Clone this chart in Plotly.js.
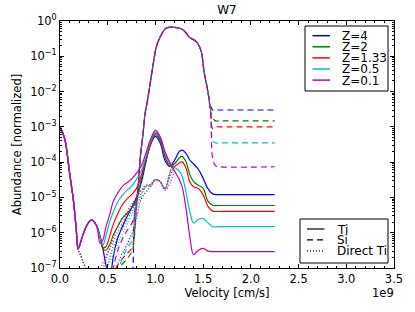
<!DOCTYPE html>
<html><head><meta charset="utf-8">
<script src="https://cdn.plot.ly/plotly-3.0.1.min.js"></script>
<style>html,body{margin:0;padding:0;background:#fff}#chart{width:415px;height:312px}</style>
</head><body><div id="chart"></div>
<script>
// ---- categories / labels ----
const zLabels = ['Z=4', 'Z=2', 'Z=1.33', 'Z=0.5', 'Z=0.1'];
const zColors = ['#0000ff', '#008000', '#ff0000', '#00bfbf', '#bf00bf'];
const styleLabels = ['Ti', 'Si', 'Direct Ti'];
const xTickVals = [0, 0.5, 1.0, 1.5, 2.0, 2.5, 3.0, 3.5];
const xTickText = ['0.0', '0.5', '1.0', '1.5', '2.0', '2.5', '3.0', '3.5'];
const yTickVals = [1e-7, 1e-6, 1e-5, 1e-4, 1e-3, 1e-2, 1e-1, 1];
const yTickText = ['10<sup>\u22127</sup>', '10<sup>\u22126</sup>', '10<sup>\u22125</sup>', '10<sup>\u22124</sup>',
                   '10<sup>\u22123</sup>', '10<sup>\u22122</sup>', '10<sup>\u22121</sup>', '10<sup>0</sup>'];

// ---- Ti (solid) ----  velocity in units of 1e9 cm/s
const velocityTi = [0, 0.05, 0.1, 0.14, 0.17, 0.19, 0.24, 0.29, 0.33, 0.38,
  0.42, 0.45, 0.48, 0.52, 0.56, 0.6, 0.65, 0.7, 0.75, 0.8,
  0.85, 0.9, 0.95, 1.0, 1.05, 1.1, 1.15, 1.2, 1.25, 1.28,
  1.32, 1.36, 1.4, 1.45, 1.5, 1.55, 1.6, 1.65, 1.7, 2.25];
const tiZ4 = [1.0e-3, 4.5e-4, 5.0e-5, 8.5e-6, 1.26e-6, 3.5e-7, 8.7e-7, 1.78e-6, 2.3e-6, 1.66e-6,
  7.9e-7, 3.5e-7, 1.26e-7, 5.0e-8, 2.2e-7, 6.3e-7, 1.41e-6, 2.8e-6, 5.0e-6, 1.0e-5,
  2.5e-5, 1.0e-4, 3.2e-4, 5.4e-4, 3.5e-4, 1.12e-4, 7.6e-5, 1.12e-4, 2.0e-4, 2.2e-4,
  1.78e-4, 1.15e-4, 8.9e-5, 6.3e-5, 3.5e-5, 1.78e-5, 1.26e-5, 1.2e-5, 1.2e-5, 1.2e-5];
const tiZ2 = [1.0e-3, 4.5e-4, 5.0e-5, 8.5e-6, 1.26e-6, 3.5e-7, 8.7e-7, 1.78e-6, 2.29e-6, 1.66e-6,
  7.6e-7, 3.5e-7, 3.2e-7, 4.5e-7, 8.9e-7, 1.41e-6, 2.5e-6, 3.5e-6, 5.0e-6, 7.9e-6,
  3.2e-5, 1.12e-4, 3.2e-4, 6.0e-4, 4.0e-4, 1.41e-4, 7.9e-5, 8.9e-5, 1.32e-4, 1.45e-4,
  1.02e-4, 4.5e-5, 2.8e-5, 2.2e-5, 1.82e-5, 7.9e-6, 6.0e-6, 5.9e-6, 5.9e-6, 5.9e-6];
const tiZ133 = [1.0e-3, 4.5e-4, 5.0e-5, 8.5e-6, 1.26e-6, 3.5e-7, 8.7e-7, 1.78e-6, 2.29e-6, 1.66e-6,
  7.6e-7, 3.8e-7, 4.0e-7, 7.9e-7, 1.78e-6, 3.2e-6, 6.0e-6, 8.9e-6, 1.2e-5, 1.78e-5,
  4.0e-5, 1.26e-4, 3.5e-4, 6.6e-4, 4.5e-4, 1.58e-4, 7.9e-5, 7.6e-5, 9.5e-5, 1.02e-4,
  6.8e-5, 2.8e-5, 2.0e-5, 1.78e-5, 1.2e-5, 5.6e-6, 4.1e-6, 4.0e-6, 4.0e-6, 4.0e-6];
const tiZ05 = [1.0e-3, 4.5e-4, 5.0e-5, 8.5e-6, 1.26e-6, 3.5e-7, 8.7e-7, 1.78e-6, 2.29e-6, 1.66e-6,
  7.1e-7, 4.5e-7, 7.9e-7, 2.0e-6, 4.0e-6, 7.1e-6, 1.12e-5, 1.58e-5, 2.1e-5, 3.2e-5,
  5.6e-5, 1.41e-4, 4.0e-4, 7.1e-4, 5.0e-4, 1.78e-4, 8.9e-5, 7.1e-5, 5.6e-5, 4.0e-5,
  1.41e-5, 4.0e-6, 1.86e-6, 2.4e-6, 2.5e-6, 1.9e-6, 1.48e-6, 1.48e-6, 1.48e-6, 1.48e-6];
const tiZ01 = [1.0e-3, 4.5e-4, 5.0e-5, 8.5e-6, 1.26e-6, 3.5e-7, 8.7e-7, 1.78e-6, 2.29e-6, 1.66e-6,
  5.0e-7, 6.3e-7, 1.41e-6, 3.2e-6, 7.9e-6, 1.26e-5, 2.0e-5, 2.6e-5, 3.3e-5, 4.8e-5,
  7.6e-5, 1.78e-4, 4.5e-4, 7.9e-4, 5.2e-4, 2.0e-4, 1.0e-4, 5.6e-5, 3.2e-5, 2.0e-5,
  5.0e-6, 7.9e-7, 2.4e-7, 3.2e-7, 3.6e-7, 3.0e-7, 2.9e-7, 2.9e-7, 2.9e-7, 2.9e-7];

// ---- Si (dashed) ----
const velocitySi = [0.55, 0.6, 0.65, 0.7, 0.75, 0.765, 0.78, 0.8,
  0.82, 0.84, 0.87, 0.89, 0.92, 0.975, 1.01, 1.06, 1.11, 1.2, 1.29, 1.36, 1.43, 1.48, 1.51, 1.55,
  1.58, 1.6, 1.63, 1.67, 2.25];
const siZ4 = [1e-8, 1e-8, 1e-8, 1e-8, 1e-8, 8e-8, 3.2e-6, 7.9e-6,
  2.0e-5, 1.26e-4, 6.3e-4, 2.2e-3, 6.3e-3, 0.056, 0.186, 0.40, 0.62, 0.66, 0.56, 0.34, 0.257, 0.135, 0.036, 0.01,
  3.7e-3, 3.0e-3, 3.0e-3, 3.0e-3, 3.0e-3];
const siZ2 = [1e-8, 7.9e-8, 1.26e-7, 1.78e-7, 2.8e-7, 3.5e-7, 7.9e-7, 4.5e-6,
  2.0e-5, 1.26e-4, 6.3e-4, 2.2e-3, 6.3e-3, 0.056, 0.186, 0.40, 0.62, 0.66, 0.56, 0.34, 0.257, 0.135, 0.036, 0.01,
  2.8e-3, 1.78e-3, 1.48e-3, 1.48e-3, 1.48e-3];
const siZ133 = [5e-8, 1.12e-7, 1.78e-7, 2.5e-7, 3.5e-7, 4.5e-7, 1.0e-6, 5.0e-6,
  2.0e-5, 1.26e-4, 6.3e-4, 2.2e-3, 6.3e-3, 0.056, 0.186, 0.40, 0.62, 0.66, 0.56, 0.34, 0.257, 0.135, 0.036, 0.01,
  2.5e-3, 8.9e-4, 1.0e-3, 1.0e-3, 1.0e-3];
const siZ05 = [1e-8, 6.3e-8, 1.78e-7, 3.5e-7, 5.6e-7, 7.9e-7, 2.5e-6, 7.1e-6,
  2.0e-5, 1.26e-4, 6.3e-4, 2.2e-3, 6.3e-3, 0.056, 0.186, 0.40, 0.62, 0.66, 0.56, 0.34, 0.257, 0.135, 0.036, 0.01,
  2.2e-3, 4.0e-4, 3.5e-4, 3.5e-4, 3.5e-4];
const siZ01 = [7.9e-8, 2.8e-7, 6.3e-7, 1.12e-6, 1.78e-6, 2.2e-6, 3.2e-6, 7.9e-6,
  2.0e-5, 1.26e-4, 6.3e-4, 2.2e-3, 6.3e-3, 0.056, 0.186, 0.40, 0.62, 0.66, 0.56, 0.34, 0.257, 0.135, 0.036, 0.01,
  2.0e-3, 1.26e-4, 7.9e-5, 7.4e-5, 7.4e-5];

// ---- Direct Ti (dotted) ----
const velocityDirect = [0, 0.05, 0.1, 0.14, 0.17, 0.19, 0.22, 0.26, 0.3,
  0.35, 0.4, 0.45, 0.5, 0.55, 0.6, 0.65, 0.7, 0.75, 0.8, 0.85, 0.9, 0.95, 1.0, 1.05, 1.1, 1.15, 1.2];
const directZ4 = [1.0e-3, 4.5e-4, 5.0e-5, 8.5e-6, 1.26e-6, 3.5e-7, 2.2e-7, 1.12e-7, 6.3e-8,
  1e-8, 1e-8, 1e-8, 1e-8, 6.3e-8, 1.26e-7, 2.5e-7, 4.5e-7, 8.9e-7, 2.5e-6, 8.9e-6, 1.41e-5, 2.0e-5, 3.2e-5, 2.8e-5, 1.78e-5, 5.0e-5, 1.12e-4];
const directZ2 = [1.0e-3, 4.5e-4, 5.0e-5, 8.5e-6, 1.26e-6, 3.5e-7, 2.2e-7, 1.12e-7, 6.3e-8,
  1e-8, 1e-8, 3.2e-8, 1.26e-7, 3.5e-7, 7.1e-7, 1.26e-6, 2.2e-6, 4.0e-6, 7.1e-6, 1.26e-5, 2.0e-5, 2.2e-5, 3.2e-5, 2.8e-5, 1.78e-5, 4.5e-5, 8.9e-5];
const directZ133 = [1.0e-3, 4.5e-4, 5.0e-5, 8.5e-6, 1.26e-6, 3.5e-7, 2.2e-7, 1.12e-7, 6.3e-8,
  1e-8, 2.5e-8, 8.9e-8, 2.5e-7, 6.3e-7, 1.41e-6, 2.5e-6, 4.0e-6, 6.3e-6, 1.0e-5, 1.58e-5, 2.2e-5, 2.4e-5, 3.2e-5, 2.8e-5, 1.78e-5, 4.0e-5, 7.6e-5];
const directZ05 = [1.0e-3, 4.5e-4, 5.0e-5, 8.5e-6, 1.26e-6, 3.5e-7, 2.2e-7, 1.12e-7, 6.3e-8,
  1e-8, 2.5e-8, 5.6e-8, 1.12e-7, 2.2e-7, 4.5e-7, 8.9e-7, 1.58e-6, 3.2e-6, 5.6e-6, 1.12e-5, 2.0e-5, 2.2e-5, 3.2e-5, 2.8e-5, 1.66e-5, 3.5e-5, 7.1e-5];
const directZ01 = [1.0e-3, 4.5e-4, 5.0e-5, 8.5e-6, 1.26e-6, 3.5e-7, 2.2e-7, 1.12e-7, 6.3e-8,
  2.5e-8, 6.3e-8, 1.41e-7, 2.8e-7, 5.0e-7, 1.0e-6, 1.78e-6, 3.2e-6, 5.6e-6, 8.9e-6, 1.58e-5, 2.2e-5, 2.2e-5, 3.2e-5, 2.8e-5, 1.58e-5, 2.5e-5, 5.6e-5];

const tiSeries = [tiZ4, tiZ2, tiZ133, tiZ05, tiZ01];
const siSeries = [siZ4, siZ2, siZ133, siZ05, siZ01];
const directSeries = [directZ4, directZ2, directZ133, directZ05, directZ01];

// ---- styles ----
const FONT = 'DejaVu Sans, sans-serif';
const dashStyles = ['solid', '6px,4px', '1px,2px'];
const LW = 1.2;

const traces = [];
zLabels.forEach((lab, i) => {
  const c = zColors[i];
  traces.push({x: velocityTi, y: tiSeries[i], mode: 'lines', name: lab + ' Ti',
    line: {color: c, width: LW, dash: dashStyles[0], shape: 'spline', smoothing: 1}, showlegend: false, hoverinfo: 'skip'});
  traces.push({x: velocitySi, y: siSeries[i], mode: 'lines', name: lab + ' Si',
    line: {color: c, width: LW, dash: dashStyles[1], shape: 'spline', smoothing: 1}, showlegend: false, hoverinfo: 'skip'});
  traces.push({x: velocityDirect, y: directSeries[i], mode: 'lines', name: lab + ' Direct Ti',
    line: {color: c, width: LW, dash: dashStyles[2], shape: 'spline', smoothing: 1}, showlegend: false, hoverinfo: 'skip'});
});

// ---- geometry helpers (pixel -> paper) for the hand-made legends ----
const W = 415, H = 312, ML = 60, MR = 21, MT = 21, MB = 44;
const PW = W - ML - MR, PH = H - MT - MB;
const px = p => (p - ML) / PW;
const py = p => (H - MB - p) / PH;

const shapes = [];
const annotations = [];
// Legend 1 (Z values)
shapes.push({type: 'rect', xref: 'paper', yref: 'paper', x0: px(305), x1: px(388), y0: py(91), y1: py(26),
  line: {color: 'black', width: 1}, fillcolor: 'white', layer: 'above'});
zLabels.forEach((lab, i) => {
  const yy = 35.7 + 11.1 * i;
  shapes.push({type: 'line', xref: 'paper', yref: 'paper', x0: px(312.5), x1: px(330), y0: py(yy), y1: py(yy),
    line: {color: zColors[i], width: 1.5}, layer: 'above'});
  annotations.push({xref: 'paper', yref: 'paper', x: px(341), y: py(yy), text: lab, showarrow: false,
    xanchor: 'left', yanchor: 'middle', height: 11, borderpad: 0,
    font: {family: FONT, size: 12, color: 'black'}});
});
// Legend 2 (line styles)
shapes.push({type: 'rect', xref: 'paper', yref: 'paper', x0: px(300), x1: px(388), y0: py(263), y1: py(219),
  line: {color: 'black', width: 1}, fillcolor: 'white', layer: 'above'});
styleLabels.forEach((lab, i) => {
  const yy = 229 + 10.9 * i;
  shapes.push({type: 'line', xref: 'paper', yref: 'paper', x0: px(307), x1: px(324.5), y0: py(yy), y1: py(yy),
    line: {color: 'black', width: 1.2, dash: dashStyles[i]}, layer: 'above'});
  annotations.push({xref: 'paper', yref: 'paper', x: px(336), y: py(yy), text: lab, showarrow: false,
    xanchor: 'left', yanchor: 'middle', height: 11, borderpad: 0,
    font: {family: FONT, size: 12, color: 'black'}});
});
// axis offset text
annotations.push({xref: 'paper', yref: 'paper', x: px(396), y: py(293), text: '1e9', showarrow: false,
  xanchor: 'right', yanchor: 'middle', font: {family: FONT, size: 11.5, color: 'black'}});

const layout = {
  width: W, height: H,
  margin: {l: ML, r: MR, t: MT, b: MB, pad: 0},
  paper_bgcolor: 'white', plot_bgcolor: 'white',
  font: {family: FONT, size: 11.5, color: 'black'},
  title: {text: 'W7', font: {family: FONT, size: 12, color: 'black'}, x: 0.5, xref: 'paper',
    y: 1 - 10 / H, yref: 'container', yanchor: 'middle'},
  showlegend: false,
  xaxis: {
    range: [0, 3.5], tickmode: 'array', tickvals: xTickVals, ticktext: xTickText,
    ticks: 'inside', ticklen: 4, tickcolor: 'black', tickwidth: 1,
    showline: true, linecolor: 'black', linewidth: 1, mirror: 'ticks',
    showgrid: false, zeroline: false,
    minor: {ticks: 'inside', ticklen: 2, tickcolor: 'black', dtick: 0.1, tick0: 0, showgrid: false},
    tickfont: {family: FONT, size: 11.5, color: 'black'},
    title: {text: 'Velocity [cm/s]', font: {family: FONT, size: 11.5, color: 'black'}, standoff: 4}
  },
  yaxis: {
    type: 'log', range: [-7, 0], tickmode: 'array', tickvals: yTickVals, ticktext: yTickText,
    ticks: 'inside', ticklen: 4, tickcolor: 'black', tickwidth: 1,
    showline: true, linecolor: 'black', linewidth: 1, mirror: 'ticks',
    showgrid: false, zeroline: false,
    minor: {ticks: 'inside', ticklen: 2, tickcolor: 'black', dtick: 'D1', showgrid: false},
    tickfont: {family: FONT, size: 11.5, color: 'black'},
    title: {text: 'Abundance [normalized]', font: {family: FONT, size: 11.5, color: 'black'}, standoff: 6}
  },
  shapes: shapes,
  annotations: annotations
};

Plotly.newPlot('chart', traces, layout, {staticPlot: true, displayModeBar: false});
</script>
</body></html>
